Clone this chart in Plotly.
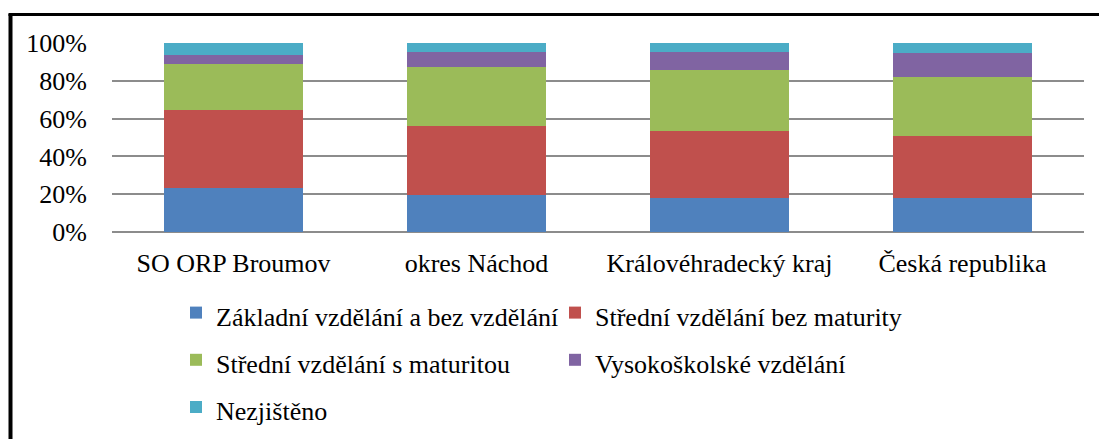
import plotly.graph_objects as go

categories = ["SO ORP Broumov", "okres Náchod", "Královéhradecký kraj", "Česká republika"]
series_names = [
    "Základní vzdělání a bez vzdělání",
    "Střední vzdělání bez maturity",
    "Střední vzdělání s maturitou",
    "Vysokoškolské vzdělání",
    "Nezjištěno",
]
zakladni = [23.5, 19.4, 18.2, 18.0]
stredni_bez = [40.9, 36.7, 35.5, 33.0]
stredni_s = [24.7, 31.2, 31.9, 31.0]
vysokoskolske = [4.8, 7.9, 9.6, 12.7]
nezjisteno = [6.1, 4.8, 4.8, 5.3]
tick_vals = [0, 20, 40, 60, 80, 100]
tick_text = ["0%", "20%", "40%", "60%", "80%", "100%"]

colors = ["#4F81BD", "#C0504D", "#9BBB59", "#8064A2", "#4BACC6"]
values = [zakladni, stredni_bez, stredni_s, vysokoskolske, nezjisteno]

W, H = 1099, 439
ml, mr, mt, mb = 112, 15, 43, 207
pw = W - ml - mr
ph = H - mt - mb

FAMILY = "Liberation Serif"
font = dict(family=FAMILY, size=26, color="black")

fig = go.Figure()
for name, vals, c in zip(series_names, values, colors):
    fig.add_trace(go.Bar(x=categories, y=vals,
                         name=f"<span style='font-size:26px'>{name}</span>",
                         marker_color=c, marker_line_width=0))

def px_x(p):
    return (p - ml) / pw

def px_y(p):
    return 1 - (p - mt) / ph

# outer frame (left and top edges)
fig.add_shape(type="line", xref="paper", yref="paper",
              x0=px_x(10.5), x1=px_x(10.5), y0=px_y(14), y1=px_y(445),
              line=dict(color="black", width=4))
fig.add_shape(type="line", xref="paper", yref="paper",
              x0=px_x(8.5), x1=px_x(1105), y0=px_y(14.5), y1=px_y(14.5),
              line=dict(color="black", width=3))

fig.update_layout(
    width=W, height=H,
    barmode="stack", bargap=0.428,
    margin=dict(l=ml, r=mr, t=mt, b=mb, autoexpand=False),
    plot_bgcolor="white", paper_bgcolor="white",
    font=font,
    showlegend=True,
    legend=dict(orientation="h", xref="container", yref="container",
                x=176 / W, y=1 - 284 / H, xanchor="left", yanchor="top",
                entrywidth=334, entrywidthmode="pixels",
                font=dict(family=FAMILY, size=34, color="black"),
                tracegroupgap=0, itemsizing="constant", traceorder="normal"),
    xaxis=dict(showgrid=False, showline=False, ticks="", ticklabelstandoff=13,
               tickfont=font),
    yaxis=dict(range=[0, 100], tickvals=tick_vals, ticktext=tick_text,
               showgrid=True, gridcolor="#8C8C8C", gridwidth=2,
               zeroline=True, zerolinecolor="#8C8C8C", zerolinewidth=2,
               showline=False, ticks="", ticklabelstandoff=24, tickfont=font),
)

fig.write_html("out.html", config={"displayModeBar": False},
               post_script="document.body.style.margin='0';")
